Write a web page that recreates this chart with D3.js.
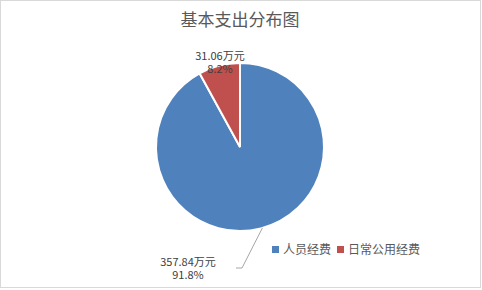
<html>
<meta charset="utf-8">
<style>
  body { margin: 0; background: #fff; }
  text { font-family: "Noto Sans CJK SC", "DejaVu Sans", sans-serif; }
</style>
<body>
<script src="https://d3js.org/d3.v7.min.js"></script>
<script>
// chart data
var categories = ["人员经费", "日常公用经费"];
var amounts = [357.84, 31.06];
var percents = ["91.8%", "8.2%"];
var colors = ["#4F81BD", "#C0504D"];

var width = 482, height = 290;
var cx = 240, cy = 147, radius = 84;

var svg = d3.select("body").append("svg")
    .attr("width", width)
    .attr("height", height);

// outer border
svg.append("rect")
    .attr("x", 0.5).attr("y", 0.5)
    .attr("width", 480).attr("height", 287)
    .attr("fill", "#fff")
    .attr("stroke", "#d9d9d9");

svg.append("text")
    .attr("x", 240).attr("y", 26)
    .attr("text-anchor", "middle")
    .style("font-size", "17px")
    .style("fill", "#595959")
    .text("基本支出分布图");

var pie = d3.pie().sort(null).value(function(d) { return d; });
var arcs = pie(amounts);
var arc = d3.arc().innerRadius(0).outerRadius(radius);

var g = svg.append("g").attr("transform", "translate(" + cx + "," + cy + ")");

g.selectAll("path")
    .data(arcs)
    .enter()
    .append("path")
    .attr("d", arc)
    .attr("fill", function(d, i) { return colors[i]; })
    .attr("stroke", "#fff")
    .attr("stroke-width", 2);

// labels (value line + percent line)
var labelPos = [[188, 266], [220, 60]];
arcs.forEach(function(d, i) {
  svg.append("text")
      .attr("x", labelPos[i][0]).attr("y", labelPos[i][1])
      .attr("text-anchor", "middle")
      .style("font-size", "11px")
      .style("fill", "#404040")
      .text(amounts[i] + "万元");
  svg.append("text")
      .attr("x", labelPos[i][0]).attr("y", labelPos[i][1] + 13)
      .attr("text-anchor", "middle")
      .style("font-size", "11px")
      .style("fill", "#404040")
      .text(percents[i]);
});

// leader line for the big slice
var mid = Math.PI - 0.27;
var px = cx + radius * Math.sin(mid), py = cy - radius * Math.cos(mid);
svg.append("polyline")
    .attr("points", [[px, py], [242, 268], [236, 268]].map(function(p) { return p.join(","); }).join(" "))
    .attr("fill", "none")
    .attr("stroke", "#a6a6a6")
    .attr("stroke-width", 1);

// legend
var legend = svg.append("g");
var lx = [272, 337];
categories.forEach(function(c, i) {
  legend.append("rect")
      .attr("x", lx[i]).attr("y", 246)
      .attr("width", 7).attr("height", 7)
      .attr("fill", colors[i]);
  legend.append("text")
      .attr("x", lx[i] + 11).attr("y", 254)
      .style("font-size", "12px")
      .style("fill", "#595959")
      .text(c);
});
</script>
</body>
</html>
